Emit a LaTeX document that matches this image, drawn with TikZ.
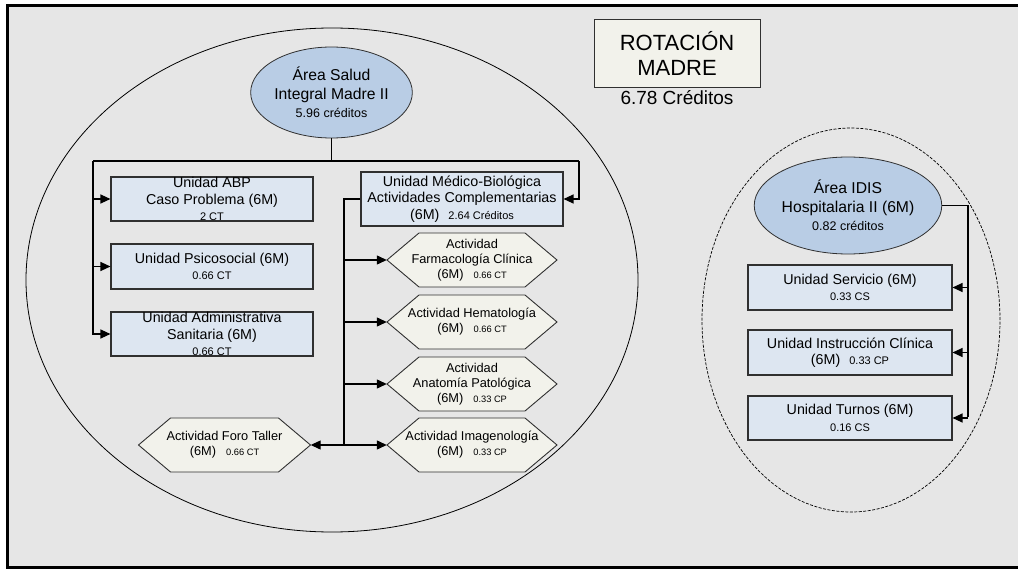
\documentclass[tikz,border=0pt]{standalone}
\usepackage{fontspec}
\setmainfont{Liberation Sans}
\usetikzlibrary{shapes.geometric,arrows.meta}

\definecolor{panelgray}{HTML}{E6E6E6}
\definecolor{unitblue}{HTML}{DDE6F1}
\definecolor{areablue}{HTML}{B9CDE5}
\definecolor{actcream}{HTML}{F2F2EB}
\definecolor{edgegray}{HTML}{303030}

% font sizes
\newcommand\mainfs{\fontsize{14.3}{16.5}\selectfont}
\newcommand\notefs{\fontsize{11}{13}\selectfont}
\newcommand\actfs{\fontsize{12.8}{15}\selectfont}
\newcommand\actnote{\fontsize{9.3}{11}\selectfont}
\newcommand\areafs{\fontsize{15.7}{18.5}\selectfont}
\newcommand\areanote{\fontsize{12.5}{14}\selectfont}

\tikzset{
  unitbox/.style={draw=edgegray, line width=1.1pt, fill=unitblue, minimum width=202pt,
    inner sep=0pt, align=center, font=\mainfs},
  areanode/.style={ellipse, draw=edgegray, line width=0.8pt, fill=areablue, inner sep=0pt,
    align=center, font=\areafs},
  actshape/.style={draw=edgegray, line width=0.9pt, fill=actcream},
  acttext/.style={inner sep=0pt, minimum height=54pt, align=center, font=\actfs},
  link/.style={line width=1.2pt, black},
  trunk/.style={line width=1.8pt, black},
  arr/.style={link, -{Triangle[length=10pt,width=9pt]}},
}

% hexagonal activity node: name, centre x, centre y, half width, text
\newcommand\actividad[5]{%
  \path[actshape] ({#2-#4},#3) -- ({#2-#4+32},{#3-27}) -- ({#2+#4-32},{#3-27})
    -- ({#2+#4},#3) -- ({#2+#4-32},{#3+27}) -- ({#2-#4+32},{#3+27}) -- cycle;
  \node[acttext, minimum width={(2*#4)*1pt}] (#1) at (#2,#3) {#5};}

\begin{document}
\begin{tikzpicture}[x=1pt, y=-1pt]
  \path[use as bounding box, fill=white] (0,0) rectangle (1018,572);
  \draw[line width=3pt, fill=panelgray] (7.5,5.5) rectangle (1022,567.5);

  % area outlines
  \draw[line width=0.8pt] (332,280) ellipse [x radius=306pt, y radius=252pt];
  \draw[line width=0.7pt, dash pattern=on 3pt off 1.5pt] (851,320) ellipse [x radius=149pt, y radius=192pt];

  % title
  \node[draw=edgegray, line width=0.9pt, fill=actcream, minimum width=166pt, minimum height=68pt,
        inner sep=0pt, align=center, font=\fontsize{22}{25}\selectfont] (rot) at (677,53) {ROTACIÓN\\MADRE};
  \node[font=\fontsize{19}{22}\selectfont, inner sep=0pt] (rotcred) at (677,98) {6.78 Créditos};

  % Salud Integral Madre
  \node[areanode, minimum width=137pt, minimum height=91pt] (salud) at (331.5,92.5)
    {Área Salud\\Integral Madre II\\{\areanote 5.96 créditos}};

  \node[unitbox, minimum height=44pt] (abp) at (212,199)
    {Unidad ABP\\Caso Problema (6M)\\{\notefs 2 CT}};
  \node[unitbox, minimum height=45pt] (psico) at (212,266.5)
    {Unidad Psicosocial (6M)\\{\notefs 0.66 CT}};
  \node[unitbox, minimum height=44pt] (admin) at (212,334)
    {Unidad Administrativa\\Sanitaria (6M)\\{\notefs 0.66 CT}};
  \node[unitbox, minimum height=54pt] (medico) at (462,199)
    {Unidad Médico-Biológica\\Actividades Complementarias\\(6M)\hspace{9pt}{\notefs 2.64 Créditos}};

  \actividad{farma}{472}{260}{85}{Actividad\\Farmacología Clínica\\(6M)\hspace{10pt}{\actnote 0.66 CT}}
  \actividad{hemato}{472}{322}{85}{Actividad Hematología\\(6M)\hspace{10pt}{\actnote 0.66 CT}}
  \actividad{anato}{472}{384}{85}{Actividad\\Anatomía Patológica\\(6M)\hspace{10pt}{\actnote 0.33 CP}}
  \actividad{imagen}{472}{445}{85}{Actividad Imagenología\\(6M)\hspace{10pt}{\actnote 0.33 CP}}
  \actividad{foro}{224.5}{445}{86}{Actividad Foro Taller\\(6M)\hspace{10pt}{\actnote 0.66 CT}}

  % IDIS Hospitalaria
  \node[areanode, minimum width=150pt, minimum height=97pt] (idis) at (848,205.5)
    {Área IDIS\\Hospitalaria II (6M)\\{\areanote 0.82 créditos}};
  \node[unitbox, minimum width=204pt, minimum height=45pt] (serv) at (850,287.5)
    {Unidad Servicio (6M)\\{\notefs 0.33 CS}};
  \node[unitbox, minimum width=204pt, minimum height=45pt] (instr) at (850,352.5)
    {Unidad Instrucción Clínica\\(6M)\hspace{9pt}{\notefs 0.33 CP}};
  \node[unitbox, minimum width=204pt, minimum height=44pt] (turnos) at (850,418)
    {Unidad Turnos (6M)\\{\notefs 0.16 CS}};

  % connectors of the Salud area
  \coordinate (jl) at (93,161);
  \coordinate (jr) at (579,161);
  \draw[link] (salud.south) -- (salud.south |- jl);
  \draw[link] (jl) -- (jr);
  \draw[arr] (jl) |- (abp.west);
  \draw[arr] (jl) |- (psico.west);
  \draw[arr] (jl) |- (admin.west);
  \draw[arr] (jr) |- (medico.east);

  % activities of the Médico-Biológica unit
  \coordinate (mb) at (344,445);
  \draw[trunk] (medico.west) -| (mb);
  \draw[arr] (farma.west -| mb) -- (farma.west);
  \draw[arr] (hemato.west -| mb) -- (hemato.west);
  \draw[arr] (anato.west -| mb) -- (anato.west);
  \draw[arr] (imagen.west -| mb) -- (imagen.west);
  \draw[arr] (imagen.west -| mb) -- (foro.east);

  % connectors of the IDIS area
  \coordinate (ib) at (968,417);
  \draw[link] (idis.east) -| (ib);
  \draw[arr] (serv.east -| ib) -- (serv.east);
  \draw[arr] (instr.east -| ib) -- (instr.east);
  \draw[arr] (turnos.east -| ib) -- (turnos.east);
\end{tikzpicture}
\end{document}
